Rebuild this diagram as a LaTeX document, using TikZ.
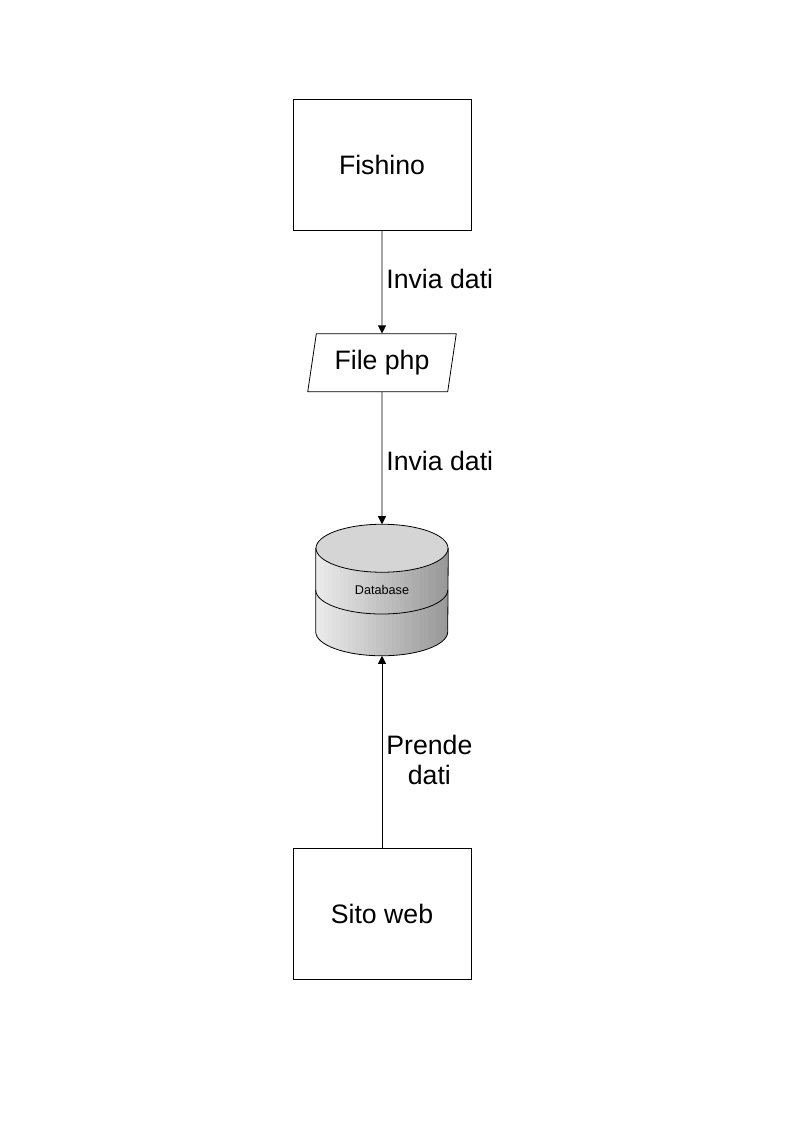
\documentclass[tikz,border=0pt]{standalone}
\usepackage{fontspec}
\setmainfont{Liberation Sans}
\usetikzlibrary{positioning,shapes.geometric,arrows.meta}

\tikzset{bb/.style={draw, line width=0.6pt, minimum width=133.5pt, minimum height=98.25pt, font=\fontsize{20}{22.5}\selectfont},
  io/.style={draw, line width=0.6pt, trapezium, trapezium left angle=76, trapezium right angle=104, trapezium stretches=true, minimum width=111.75pt, minimum height=43.5pt, inner sep=0pt, font=\fontsize{20}{22.5}\selectfont},
  db/.style={minimum width=99pt, minimum height=98.25pt, inner sep=0pt, font=\fontsize{9.5}{11}\selectfont},
  link/.style={line width=0.6pt, -{Triangle[length=6pt,width=6pt]}},
  lbl/.style={right, inner sep=3pt, align=center, font=\fontsize{20}{22.5}\selectfont}}

\begin{document}
\begin{tikzpicture}[]
    \useasboundingbox (0,0) rectangle (595.5pt,-842.25pt);

    \node[bb] (fishino) at (286.5pt,-123.4pt) {Fishino};

    \node[io, below=77.25pt of fishino] (php) {File php};

    \node[db, below=99pt of php] (database) {};

    \node[bb, below=144pt of database] (sito) {Sito web};

    % database drum, shaded body in strips
    \begin{scope}
      \clip ([yshift=-18pt]database.north west) -- ([yshift=18pt]database.south west)
        arc[start angle=180, end angle=360, x radius=49.5pt, y radius=18pt]
        -- ([yshift=-18pt]database.north east) -- cycle;
      \foreach \i in {0,...,32}
        \fill[gray!\the\numexpr 16+2*\i\relax] ([xshift=\i*3pt]database.north west) rectangle ([xshift=\i*3pt+3.2pt]database.south west);
    \end{scope}
    \draw[line width=0.6pt]
      ([yshift=-18pt]database.north west) -- ([yshift=18pt]database.south west)
      arc[start angle=180, end angle=360, x radius=49.5pt, y radius=18pt]
      -- ([yshift=-18pt]database.north east);
    \draw[fill=gray!33, line width=0.6pt] ([yshift=-18pt]database.north) ellipse[x radius=49.5pt, y radius=18pt];
    \draw[line width=0.6pt] (database.west) arc[start angle=180, end angle=360, x radius=49.5pt, y radius=18pt];
    \node[db] at (database) {Database};

    \draw[link] (fishino) -- node[lbl, midway, yshift=2.25pt] {Invia dati} (php);

    \draw[link] (php) -- node[lbl, midway, yshift=-2.25pt] {Invia dati} (database);

    \draw[link] (sito) -- node[lbl, midway, yshift=-6pt] {Prende\\dati} (database);

\end{tikzpicture}
\end{document}
